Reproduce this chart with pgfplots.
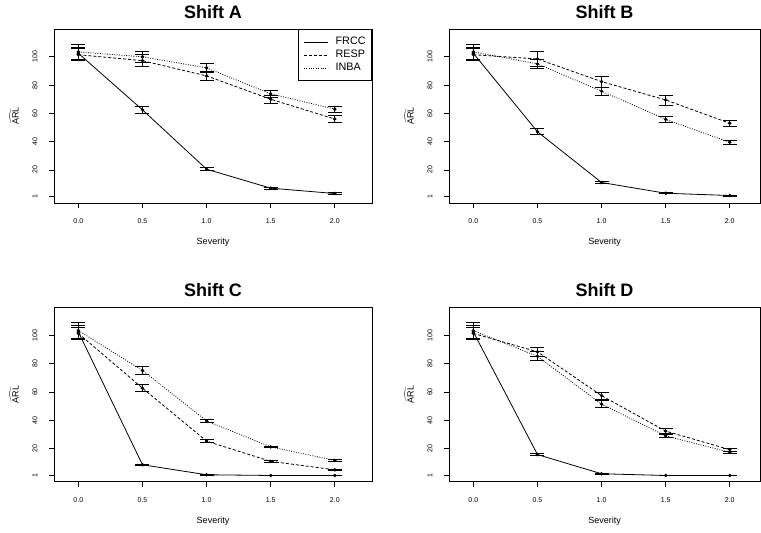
\documentclass[border=0pt]{standalone}
\usepackage{pgfplots}
\pgfplotsset{compat=1.18}
\usepackage{pgfplotstable}
\usepackage{fontspec}
\setmainfont{Liberation Sans}

\pgfplotstableread{
x F Fe R Re I Ie
0.0 102.5 4.5 101.5 4.2 103.5 5.5
0.5 62.5 2.6 97.3 4.3 100.0 3.6
1.0 20.5 1.0 86.5 3.5 92.2 3.3
1.5 7.1 0.7 70.0 2.7 73.8 2.3
2.0 3.3 0.5 56.0 2.3 63.0 2.2
}\dataA
\pgfplotstableread{
x F Fe R Re I Ie
0.0 102.5 4.5 101.5 4.2 103.5 5.5
0.5 47.0 2.2 98.5 5.5 95.0 3.5
1.0 11.1 0.6 82.5 4.0 75.7 2.7
1.5 3.5 0.4 69.5 3.5 55.8 1.9
2.0 1.9 0.3 53.0 2.3 39.5 1.2
}\dataB
\pgfplotstableread{
x F Fe R Re I Ie
0.0 102.5 4.5 101.5 4.2 103.5 5.5
0.5 8.6 0.5 62.8 2.3 75.3 3.0
1.0 1.5 0.2 25.3 1.1 39.6 1.2
1.5 1.0 0.1 11.0 0.5 21.2 0.6
2.0 1.0 0.1 5.0 0.5 11.7 0.6
}\dataC
\pgfplotstableread{
x F Fe R Re I Ie
0.0 102.5 4.5 101.5 4.2 103.5 5.5
0.5 15.8 0.7 88.5 3.2 85.3 3.2
1.0 2.2 0.2 57.5 2.6 51.5 2.4
1.5 1.0 0.1 32.4 1.6 29.0 1.2
2.0 1.0 0.1 19.3 1.0 17.4 0.9
}\dataD

\pgfplotsset{
  panel/.style={
    scale only axis, height=174pt,
    xmin=-0.19, ymin=-3.4, ymax=119.7,
    xtick={0,0.5,1,1.5,2}, xticklabels={0.0,0.5,1.0,1.5,2.0},
    ytick={1,20,40,60,80,100}, yticklabels={1,20,40,60,80,100},
    tick pos=left, tick align=outside, major tick length=5pt,
    tick style={black, line width=0.8pt},
    axis line style={line width=0.9pt},
    tick label style={font=\fontsize{7}{7}\selectfont},
    yticklabel style={rotate=90, anchor=south},
    xticklabel shift=7.3pt, yticklabel shift=8pt,
    xlabel={Severity}, ylabel={$\widehat{\mbox{ARL}}$},
    label style={font=\fontsize{9}{10}\selectfont},
    xlabel style={at={(axis description cs:0.5,0)}, anchor=center, yshift=-39pt},
    title style={font=\bfseries\fontsize{18}{20}\selectfont, at={(axis description cs:0.5,1)}, anchor=center, yshift=11.3pt},
  },
  wide/.style={width=318pt, xmax=2.29, ylabel style={at={(axis description cs:-0.1258,0.5)}, anchor=center}},
  narrow/.style={width=311pt, xmax=2.236, ylabel style={at={(axis description cs:-0.1286,0.5)}, anchor=center}},
  ser/.style={black, line width=0.8pt, mark=*, mark size=1.3pt, mark options={solid, fill=black}, forget plot,
    error bars/y dir=both, error bars/y explicit,
    error bars/error bar style={solid, line width=0.8pt},
    error bars/error mark options={rotate=90, solid, line width=0.8pt, mark size=7pt}},
  frcc/.style={ser, solid},
  resp/.style={ser, dash pattern=on 3pt off 2pt},
  inba/.style={ser, dash pattern=on 0.9pt off 1.5pt},
}

\newcommand{\series}[1]{%
  \addplot[frcc] table[x=x, y=F, y error=Fe] {#1};
  \addplot[resp] table[x=x, y=R, y error=Re] {#1};
  \addplot[inba] table[x=x, y=I, y error=Ie] {#1};
}

\begin{document}
\begin{tikzpicture}
\useasboundingbox (0,0) rectangle (761pt,533pt);

\begin{axis}[panel, wide, at={(54pt,330pt)}, anchor=south west, title={Shift A},
  legend style={at={(1,1)}, anchor=north east, draw=black, line width=0.8pt,
    font=\fontsize{10.8}{12}\selectfont, inner xsep=4.5pt, inner ysep=6.2pt,
    nodes={inner sep=1.5pt, text height=7.8pt, text depth=2.2pt}, column sep=6pt, row sep=0pt},
  legend cell align=left,
  legend image code/.code={\draw[#1] (0pt,0pt) -- (24pt,0pt);}]
\series{\dataA}
\addlegendimage{black, solid, line width=0.8pt}
\addlegendentry{FRCC}
\addlegendimage{black, dash pattern=on 3pt off 2pt, line width=0.8pt}
\addlegendentry{RESP}
\addlegendimage{black, dash pattern=on 0.9pt off 1.5pt, line width=0.8pt}
\addlegendentry{INBA}
\end{axis}

\begin{axis}[panel, narrow, at={(449pt,330pt)}, anchor=south west, title={Shift B}]
\series{\dataB}
\end{axis}

\begin{axis}[panel, wide, at={(54pt,51.3pt)}, anchor=south west, title={Shift C}]
\series{\dataC}
\end{axis}

\begin{axis}[panel, narrow, at={(449pt,51.3pt)}, anchor=south west, title={Shift D}]
\series{\dataD}
\end{axis}
\end{tikzpicture}
\end{document}
